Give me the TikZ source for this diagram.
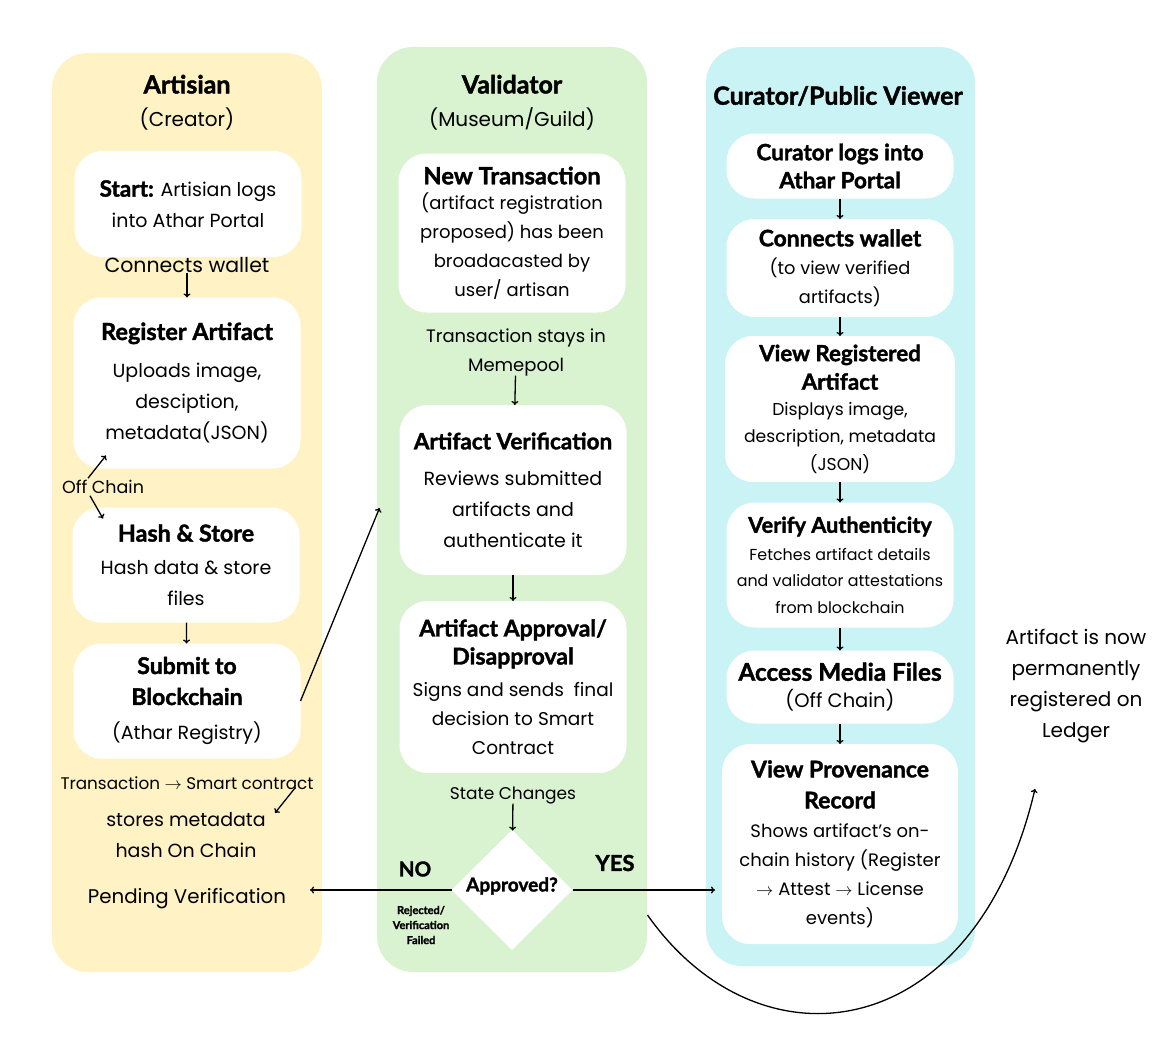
\documentclass[tikz,border=0pt]{standalone}
\usepackage{fontspec}
\setmainfont{Poppins}
\newfontfamily\hdfont{Lato}[BoldFeatures={FakeBold=1.6}]
\usetikzlibrary{positioning,shapes.geometric,arrows.meta,calc}

\definecolor{artfill}{HTML}{FFF2C4}
\definecolor{valfill}{HTML}{D9F2D0}
\definecolor{curfill}{HTML}{C9F3F4}

\newcommand{\setfs}[2]{\fontsize{#1}{#2}\selectfont}
\newcommand{\hd}[2][23]{{\hdfont\bfseries\fontsize{#1}{#1}\selectfont #2}}

\begin{document}
\begin{tikzpicture}
[x=1pt,y=-1pt,
 every node/.style={inner sep=0pt,outer sep=0pt,align=center,font=\setfs{19}{31}},
 lane/.style={rounded corners=36pt},
 box/.style={fill=white,rounded corners=28pt,minimum width=227pt},
 small/.style={font=\setfs{16.8}{20}},
 flow/.style={-{To[length=4pt,width=7pt]},line width=1.3pt},
 line width=1.3pt]
\fill[white] (0,0) rectangle (1174,1038);
\useasboundingbox (0,0) rectangle (1174,1038);

% lanes
\fill[artfill,lane] (52,53) rectangle (322,972);
\fill[valfill,lane] (377,47) rectangle (647,972);
\fill[curfill,lane] (706,47) rectangle (975,966);

% artisian lane
\node[font=\setfs{20}{33}] (arttitle) at (187,102.5) {\hd[25]{Artisian}\\(Creator)};
\node[box,minimum height=106pt] (start) at (188,204) {\hd[22.5]{Start:} Artisian logs\\into Athar Portal};
\node[font=\setfs{20.5}{31}] (wallet) at (187,265) {Connects wallet};
\node[box,minimum height=171pt] (reg) at (187,383) {\hd[23.5]{Register Artifact}\\[7pt]Uploads image,\\desciption,\\metadata(JSON)};
\node[font=\setfs{17.5}{20}] (offchain) at (103,487) {Off Chain};
\node[box,minimum height=115pt] (hash) at (186,565) {\hd[23.3]{Hash \& Store}\\[2pt]Hash data \& store\\files};
\node[box,minimum height=115pt] (submit) at (187,701) {\hd{Submit to}\\\hd{Blockchain}\\[4pt](Athar Registry)};
\node[small] (txn) at (187,783) {Transaction $\rightarrow$ Smart contract};
\node (stores) at (186,835) {stores metadata\\hash On Chain};
\node[font=\setfs{19.8}{31}] (pending) at (187,899) {Pending Verification};

% validator lane
\node[font=\setfs{20}{33}] (valtitle) at (512,102.5) {\hd[25]{Validator}\\(Museum/Guild)};
\node[box,minimum height=159pt,font=\setfs{18}{29}] (newtx) at (512,233) {\hd[23.7]{New Transaction}\\[-4pt](artifact registration\\proposed) has been\\broadacasted by\\user/ artisan};
\node[font=\setfs{18}{29}] (mempool) at (516,352) {Transaction stays in\\Memepool};
\node[box,minimum height=170pt,font=\setfs{19}{31}] (verif) at (513,490) {\hd[22.5]{Artifact Verification}\\[5pt]Reviews submitted\\artifacts and\\authenticate it};
\node[box,minimum height=172pt,font=\setfs{18.5}{29}] (approve) at (513,687) {\hd{Artifact Approval/}\\[-1pt]\hd{Disapproval}\\[3pt]Signs and sends\ \ final\\decision to Smart\\Contract};
\node[font=\setfs{17}{20}] (state) at (513,795) {State Changes};
\node[diamond,fill=white,minimum width=121pt,minimum height=120pt] (dec) at (512,890) {};
\node (declbl) at ([yshift=4pt]dec.center) {\hd[19]{Approved?}};
\node (no) at (415,869) {\hd[20.5]{NO}};
\node (yes) at (615,863) {\hd[22]{YES}};
\node[font=\setfs{11}{15}] (rej) at (421,925) {\hd[11]{Rejected/}\\\hd[11]{Verification}\\\hd[11]{Failed}};

\draw[flow] (wallet) -- (reg);
\draw[flow] ([shift={(-15,-2)}]offchain.north) -- ([shift={(-81,-13)}]reg.south);
\draw[flow] ([shift={(-13,2)}]offchain.south) -- ([shift={(-83,11)}]hash.north);
\draw[flow] (hash) -- (submit);
\draw[flow] (submit.east) -- ([shift={(-20,18)}]verif.west);
\draw[flow] ([shift={(108,5)}]txn.center) -- ([shift={(89,-22)}]stores.center);

\coordinate (noend) at (310,890);
\draw[flow] (mempool) -- (verif);
\draw[flow] (verif) -- (approve);
\draw[flow] (state) -- (dec);
\draw[flow] (dec.west) -- (noend);

% curator lane
\node (curtitle) at (838,96) {\hd[25]{Curator/Public Viewer}};
\node[box,minimum height=65pt,font=\setfs{17}{28}] (login) at (840,166) {\hd[22.5]{Curator logs into}\\\hd[22.5]{Athar Portal}};
\node[box,minimum height=98pt,font=\setfs{17.8}{28.5}] (cwallet) at (840,268) {\hd[22.8]{Connects wallet}\\(to view verified\\artifacts)};
\node[box,minimum width=230pt,minimum height=146pt,font=\setfs{17.2}{27.5}] (viewreg) at (840,409) {\hd[22.3]{View Registered}\\[1pt]\hd[22.3]{Artifact}\\[-2pt]Displays image,\\description, metadata\\(JSON)};
\node[box,minimum height=125pt,font=\setfs{15.9}{26.5}] (verify) at (840,565) {\hd[21.7]{Verify Authenticity}\\[1pt]Fetches artifact details\\and validator attestations\\from blockchain};
\node[box,minimum height=73pt,font=\setfs{19.5}{27}] (media) at (840,687) {\hd[24.3]{Access Media Files}\\(Off Chain)};
\node[box,minimum width=236pt,minimum height=200pt,font=\setfs{18}{29}] (prov) at (840,844) {\hd[23]{View Provenance}\\[2pt]\hd[23]{Record}\\Shows artifact’s on-\\chain history (Register\\$\rightarrow$ Attest $\rightarrow$ License\\events)};

\draw[flow] (login) -- (cwallet);
\draw[flow] (cwallet) -- (viewreg);
\draw[flow] (viewreg) -- (verify);
\draw[flow] (verify) -- (media);
\draw[flow] (media) -- (prov);
\draw[flow,shorten >=7pt] (dec.east) -- (dec.east -| prov.west);

% ledger
\node[font=\setfs{20}{31}] (ledger) at (1076,686) {Artifact is now\\permanently\\registered on\\Ledger};
\coordinate (curvestart) at ([shift={(75,25)}]dec.east);
\coordinate (ledgerend) at ([shift={(-41,46)}]ledger.south);
\draw[flow] (curvestart) .. controls (760,1075) and (975,1045) .. (ledgerend);
\end{tikzpicture}
\end{document}
